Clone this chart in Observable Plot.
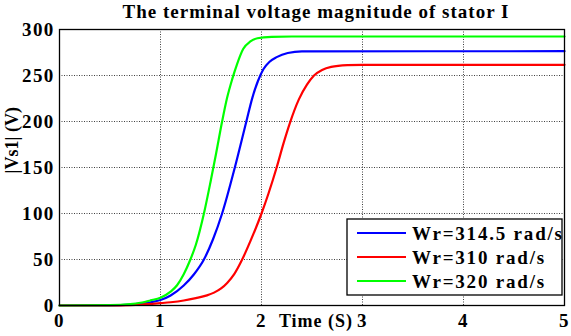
<!DOCTYPE html>
<html>
<head>
<meta charset="utf-8">
<script src="https://cdn.jsdelivr.net/npm/d3@7"></script>
<script src="https://cdn.jsdelivr.net/npm/@observablehq/plot@0.6"></script>
<style>
  body { margin: 0; background: #fff; }
  svg { display: block; }
</style>
</head>
<body>
<div id="chart"></div>
<script>
// Terminal voltage magnitude |Vs1| of stator I during start-up, for three rotor speeds.
const seriesNames = ["Wr=314.5 rad/s", "Wr=310 rad/s", "Wr=320 rad/s"];
const seriesColors = ["#0000ff", "#ff0000", "#00ff00"];

// Wr = 314.5 rad/s
const tBlue = [0, 0.5, 0.7, 0.8, 0.9, 1.0, 1.1, 1.23, 1.33, 1.43, 1.52, 1.61, 1.736, 1.85, 1.91, 1.965, 2.02, 2.08, 2.15, 2.26, 2.4, 5];
const vBlue = [0, 0.2, 1, 2, 3.5, 6, 10.9, 21.7, 33.7, 50, 72, 100, 150, 200, 226, 244, 257, 265, 270, 274.5, 276.2, 276.4];

// Wr = 310 rad/s
const tRed = [0, 0.6, 0.8, 1.0, 1.1, 1.23, 1.35, 1.46, 1.53, 1.6, 1.66, 1.73, 1.8, 1.89, 2.0, 2.07, 2.15, 2.22, 2.28, 2.37, 2.45, 2.52, 2.6, 2.69, 2.85, 3.0, 5];
const vRed = [0, 0.2, 0.8, 2.5, 3.5, 5.4, 8, 11, 14, 18.5, 24.5, 34, 48, 70, 100, 122, 150, 177, 198, 224, 240, 250, 256, 259.3, 261.2, 261.6, 261.6];

// Wr = 320 rad/s
const tGreen = [0, 0.5, 0.7, 0.8, 0.9, 1.0, 1.1, 1.164, 1.23, 1.296, 1.35, 1.43, 1.5, 1.55, 1.61, 1.66, 1.71, 1.76, 1.82, 1.89, 1.96, 2.1, 2.3, 5];
const vGreen = [0, 0.3, 1.5, 3, 5.5, 8.5, 15, 22, 34, 50, 66, 100, 137, 165, 200, 226, 246, 263, 279, 287, 290.5, 292, 292.4, 292.4];

const xTicks = [0, 1, 2, 3, 4, 5];
const yTicks = [0, 50, 100, 150, 200, 250, 300];

const titleText = "The terminal voltage magnitude of stator I";
const xLabel = "Time (S)";
const yLabel = "|Vs1| (V)";

const rows = [];
[[tBlue, vBlue], [tRed, vRed], [tGreen, vGreen]].forEach(([ts, vs], k) => {
  ts.forEach((t, i) => rows.push({series: seriesNames[k], t, v: vs[i]}));
});

const font = "'Liberation Serif', 'Times New Roman', serif";

const chart = Plot.plot({
  width: 571,
  height: 336,
  marginLeft: 59,
  marginRight: 7,
  marginTop: 29,
  marginBottom: 31,
  style: {fontFamily: font, fontWeight: "bold", fontSize: "19px", color: "#000", background: "#fff"},
  x: {domain: [0, 5]},
  y: {domain: [0, 300]},
  color: {domain: seriesNames, range: seriesColors},
  marks: [
    Plot.gridX(xTicks, {stroke: "#000", strokeOpacity: 0.75, strokeDasharray: "1,1.5"}),
    Plot.gridY(yTicks, {stroke: "#000", strokeOpacity: 0.75, strokeDasharray: "1,1.5"}),
    Plot.line(rows, {x: "t", y: "v", z: "series", stroke: "series", strokeWidth: 2.2, curve: "monotone-x"}),
    Plot.frame({stroke: "#000", strokeWidth: 1.3}),
    Plot.axisX({ticks: xTicks, tickSize: 0, tickPadding: 8, tickFormat: (d) => String(d), label: null, fontSize: 19}),
    Plot.axisY({ticks: yTicks, tickSize: 0, tickPadding: 5, tickFormat: (d) => String(d), label: null, fontSize: 19}),
    Plot.text([xLabel], {frameAnchor: "bottom", dx: 4, dy: 9, lineAnchor: "top", fontSize: 18, fontWeight: "bold"}),
    Plot.text([yLabel], {frameAnchor: "left", rotate: -90, dx: -47, dy: 6, fontSize: 18, fontWeight: "bold"}),
    Plot.text([titleText], {frameAnchor: "top", dx: 4, dy: -12, lineAnchor: "bottom", fontSize: 19, fontWeight: "bold"})
  ]
});

const svg = d3.select(chart);
// slightly wider lettering for the axis numbers, labels and title
svg.selectAll("g[aria-label='x-axis tick label'] text, g[aria-label='y-axis tick label'] text").attr("letter-spacing", 1.3);
svg.selectAll("g[aria-label='text'] text").each(function () {
  const t = d3.select(this);
  if (t.text() === titleText) t.attr("letter-spacing", 1);
  if (t.text() === xLabel) t.attr("letter-spacing", 1);
});

// Legend box in the lower-right corner of the axes
const lg = svg.append("g")
  .attr("font-family", font).attr("font-weight", "bold").attr("font-size", 19)
  .attr("text-anchor", "start");
lg.append("rect")
  .attr("x", 347).attr("y", 219).attr("width", 215).attr("height", 76)
  .attr("fill", "#fff").attr("stroke", "#000").attr("stroke-width", 1.3);
seriesNames.forEach((name, i) => {
  const yy = 233 + i * 24;
  lg.append("line").attr("x1", 357).attr("x2", 406).attr("y1", yy).attr("y2", yy)
    .attr("stroke", seriesColors[i]).attr("stroke-width", 2.2);
  lg.append("text").attr("x", 412).attr("y", yy).attr("dy", "0.35em")
    .attr("letter-spacing", 1.8).attr("fill", "#000").text(name);
});

document.getElementById("chart").appendChild(chart);
</script>
</body>
</html>
